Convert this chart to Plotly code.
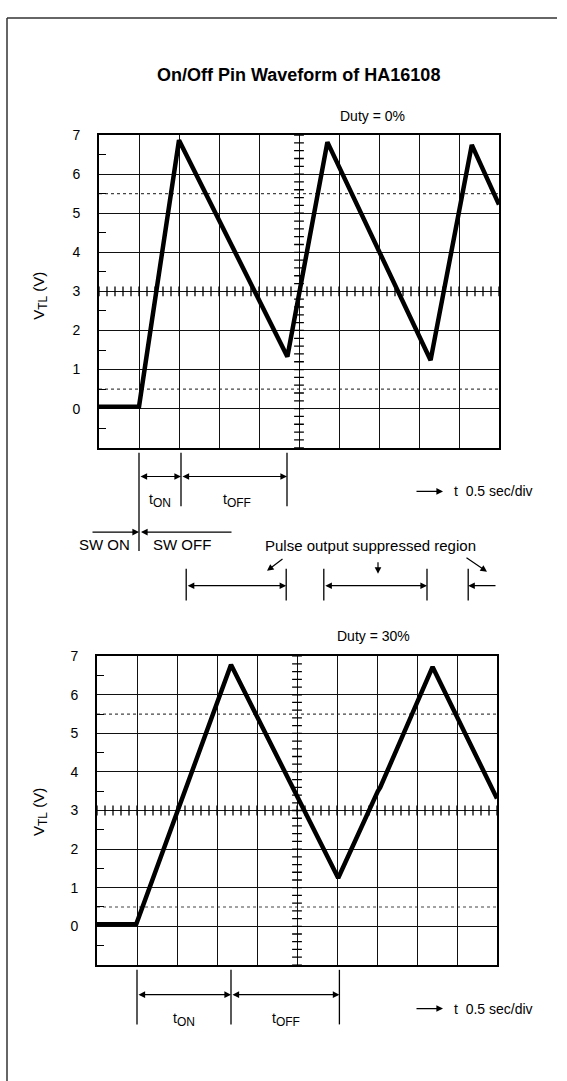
import numpy as np
import plotly.graph_objects as go

# time axis in seconds (0.5 sec/div, 10 div), voltage V_TL in volts
t_duty0 = [0.0, 0.5, 1.0, 2.355, 2.855, 4.145, 4.66, 5.0]
v_duty0 = [0.05, 0.05, 6.87, 1.33, 6.82, 1.24, 6.75, 5.22]

t_duty30 = [0.0, 0.49, 1.675, 3.015, 3.51, 3.54, 4.195, 5.0]
v_duty30 = [0.05, 0.05, 6.78, 1.25, 3.50, 3.60, 6.72, 3.31]

y_ticks = [0, 1, 2, 3, 4, 5, 6, 7]
dotted_levels = [0.5, 5.5]

# brackets below the charts (seconds)
top_ton = [0.5, 1.025]
top_toff = [1.025, 2.35]
suppressed = [[1.09, 2.34], [2.81, 4.1]]
suppressed_open = [4.615, 4.975]
bot_ton = [0.5, 1.675]
bot_toff = [1.675, 3.03]

W, H = 567, 1081
FONT = "Liberation Sans, Arial, sans-serif"
SUB = '<sub><span style="font-size:12px">{}</span></sub>'


def px(x):
    return x / W


def py(y):
    return 1 - y / H


fig = go.Figure()

panels = [
    dict(t=t_duty0, v=v_duty0, xa="x", ya="y"),
    dict(t=t_duty30, v=v_duty30, xa="x2", ya="y2"),
]

for p in panels:
    # graticule crosses on the centre lines
    fig.add_trace(go.Scatter(
        x=np.arange(0, 5.001, 0.1), y=[3] * 51, xaxis=p["xa"], yaxis=p["ya"],
        mode="markers", hoverinfo="skip", showlegend=False,
        marker=dict(symbol="line-ns", size=7, line=dict(width=1.3, color="black")),
    ))
    fig.add_trace(go.Scatter(
        x=[2.5] * 41, y=np.arange(-1, 7.001, 0.2), xaxis=p["xa"], yaxis=p["ya"],
        mode="markers", hoverinfo="skip", showlegend=False,
        marker=dict(symbol="line-ew", size=7, line=dict(width=1.3, color="black")),
    ))
    fig.add_trace(go.Scatter(
        x=p["t"], y=p["v"], xaxis=p["xa"], yaxis=p["ya"],
        mode="lines", showlegend=False,
        line=dict(color="black", width=4.5),
    ))
    for lv in dotted_levels:
        fig.add_shape(type="line", xref=p["xa"], yref=p["ya"], x0=0, x1=5, y0=lv, y1=lv,
                      line=dict(color="#444", width=1.2, dash="dot"), layer="below")

axis_common_x = dict(range=[0, 5], dtick=0.5, tick0=0, showgrid=True, gridcolor="#111",
                     gridwidth=1.3, showticklabels=False, ticks="", zeroline=False,
                     showline=True, linecolor="black", linewidth=2, mirror=True, fixedrange=True)
axis_common_y = dict(range=[-1, 7], tickmode="array", tickvals=y_ticks, showgrid=True,
                     gridcolor="#111", gridwidth=1.3, ticks="", zeroline=False,
                     showline=True, linecolor="black", linewidth=2, mirror=True,
                     ticklabelstandoff=14, tickfont=dict(size=14, color="black"),
                     minor=dict(tickmode="linear", tick0=0.5, dtick=1, ticks="inside",
                                ticklen=7, tickwidth=1.3, tickcolor="black"),
                     fixedrange=True)

fig.update_layout(
    width=W, height=H,
    margin=dict(l=0, r=0, t=0, b=0),
    paper_bgcolor="white", plot_bgcolor="white",
    font=dict(family=FONT, size=14, color="black"),
    xaxis=dict(axis_common_x, domain=[px(99), px(499)], anchor="y"),
    yaxis=dict(axis_common_y, domain=[py(443), py(128)], anchor="x"),
    xaxis2=dict(axis_common_x, domain=[px(97), px(497)], anchor="y2"),
    yaxis2=dict(axis_common_y, domain=[py(964), py(653)], anchor="x2"),
)

ann = []
shapes = []


def text(x, y, s, size=14, xanchor="center", **kw):
    ann.append(dict(x=px(x), y=py(y), xref="paper", yref="paper", text=s, showarrow=False,
                    xanchor=xanchor, yanchor="middle", font=dict(size=size), **kw))


def vline(xref, x, y0, y1, w=1.3):
    shapes.append(dict(type="line", xref=xref, yref="paper", x0=x, x1=x, y0=py(y0), y1=py(y1),
                       line=dict(color="black", width=w)))


def harrow(xref, x0, x1, y, both=True):
    ann.append(dict(x=x1, y=py(y), xref=xref, yref="paper", ax=x0, ay=0, axref=xref,
                    ayref="pixel", text="", showarrow=True,
                    arrowside="end+start" if both else "end",
                    arrowhead=2, startarrowhead=2, arrowsize=1.1, startarrowsize=1.1,
                    arrowwidth=1.2, arrowcolor="black"))


def parrow(x, y, dx, dy):
    ann.append(dict(x=px(x), y=py(y), xref="paper", yref="paper", ax=dx, ay=dy,
                    text="", showarrow=True, arrowhead=2, arrowsize=1.1,
                    arrowwidth=1.2, arrowcolor="black"))


# titles
text(298, 68, "<b>On/Off Pin Waveform of HA16108</b>", size=18)
text(372, 109, "Duty = 0%")
text(373, 633, "Duty = 30%")
for yc in (290, 810):
    text(40, yc, "V" + SUB.format("TL") + " (V)", size=15, textangle=-90)

# top: t_on / t_off brackets
vline("x", top_ton[0], 448, 547)
vline("x", top_ton[1], 448, 502)
vline("x", top_toff[1], 448, 502)
harrow("x", top_ton[0], top_ton[1], 472)
harrow("x", top_toff[0], top_toff[1], 472)
text(160, 496, "t" + SUB.format("ON"))
text(237, 496, "t" + SUB.format("OFF"))

# sec/div markers
for yy in (487, 1008):
    parrow(443, yy, -28, 0)
    text(452, yy, "t  0.5 sec/div", xanchor="left")

# SW ON / SW OFF
parrow(139, 528, -48, 0)
parrow(141, 528, 92, 0)
text(104, 541, "SW ON", size=15)
text(182, 541, "SW OFF", size=15)

# pulse output suppressed region
text(370, 542, "Pulse output suppressed region", size=15)
parrow(267, 567, 17, -13)
parrow(378, 570, 0, -13)
parrow(487, 568, -22, -15)
for seg in suppressed:
    vline("x", seg[0], 565, 597)
    vline("x", seg[1], 565, 597)
    harrow("x", seg[0], seg[1], 582)
vline("x", suppressed_open[0], 565, 597)
harrow("x", suppressed_open[1], suppressed_open[0], 582, both=False)

# bottom: t_on / t_off brackets
vline("x2", bot_ton[0], 969, 1024)
vline("x2", bot_ton[1], 969, 1024)
vline("x2", bot_toff[1], 969, 1024)
harrow("x2", bot_ton[0], bot_ton[1], 994)
harrow("x2", bot_toff[0], bot_toff[1], 994)
text(184, 1019, "t" + SUB.format("ON"))
text(286, 1019, "t" + SUB.format("OFF"))

# page frame
shapes.append(dict(type="line", xref="paper", yref="paper", x0=px(7), x1=px(7), y0=py(10), y1=0,
                   line=dict(color="#333", width=1.5)))
shapes.append(dict(type="line", xref="paper", yref="paper", x0=px(7), x1=px(557), y0=py(10), y1=py(10),
                   line=dict(color="#333", width=1.5)))

fig.update_layout(annotations=ann)
for s in shapes:
    fig.add_shape(**s)

fig.write_html("out.html", config={"displayModeBar": False},
               post_script="document.body.style.margin='0px';")
